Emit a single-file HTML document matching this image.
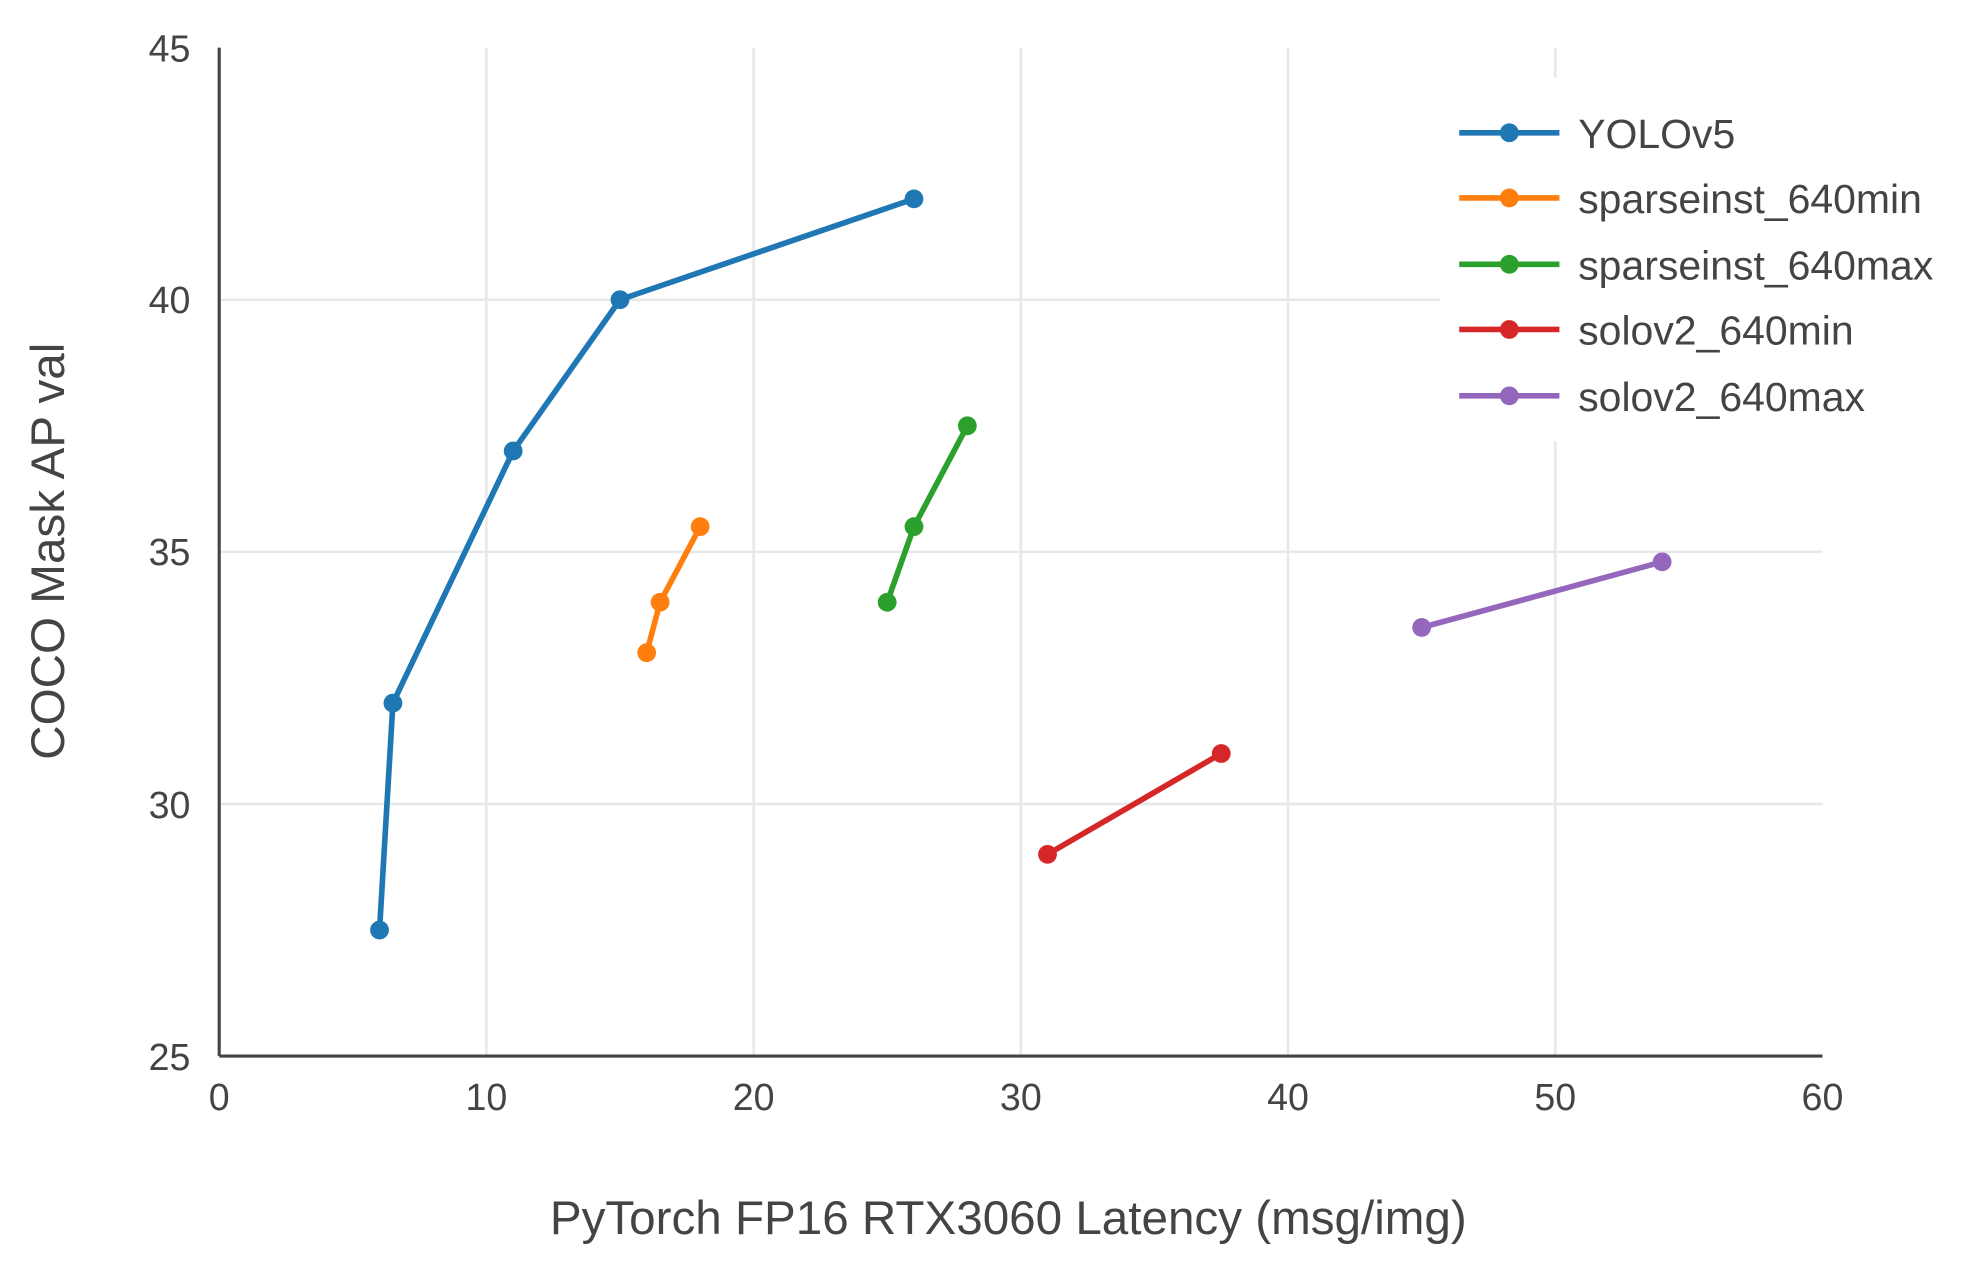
<!DOCTYPE html>
<html><head><meta charset="utf-8"><style>
html,body{margin:0;padding:0;background:#fff;}
svg{display:block;}
text{font-family:"Liberation Sans",sans-serif;fill:#444;}
</style></head><body>
<svg width="1964" height="1264" viewBox="0 0 1568 1009" preserveAspectRatio="none" xmlns="http://www.w3.org/2000/svg">
<rect width="1568" height="1009" fill="#fff"/>
<g stroke="#e8e8e8" stroke-width="2">
<line x1="388.3" y1="38" x2="388.3" y2="843"/>
<line x1="601.7" y1="38" x2="601.7" y2="843"/>
<line x1="815" y1="38" x2="815" y2="843"/>
<line x1="1028.3" y1="38" x2="1028.3" y2="843"/>
<line x1="1241.7" y1="38" x2="1241.7" y2="843"/>
<line x1="175" y1="239.25" x2="1455" y2="239.25"/>
<line x1="175" y1="440.5" x2="1455" y2="440.5"/>
<line x1="175" y1="641.75" x2="1455" y2="641.75"/>
</g>
<rect x="1150" y="62" width="400" height="290" fill="#fff"/>
<g stroke="#444" stroke-width="2.5">
<line x1="175" y1="38" x2="175" y2="843"/>
<line x1="175" y1="843" x2="1455" y2="843"/>
</g>
<g font-size="30" text-anchor="end">
<text x="152" y="49">45</text><text x="152" y="250">40</text><text x="152" y="451">35</text>
<text x="152" y="653">30</text><text x="152" y="854">25</text>
</g>
<g font-size="30" text-anchor="middle">
<text x="175" y="886">0</text><text x="388.3" y="886">10</text><text x="601.7" y="886">20</text>
<text x="815" y="886">30</text><text x="1028.3" y="886">40</text><text x="1241.7" y="886">50</text><text x="1455" y="886">60</text>
</g>
<text x="805" y="985" font-size="38" text-anchor="middle">PyTorch FP16 RTX3060 Latency (msg/img)</text>
<text transform="translate(51,440) rotate(-90)" font-size="38" text-anchor="middle">COCO Mask AP val</text>
<g fill="none" stroke-width="4.5" stroke-linejoin="round">
<polyline stroke="#1f77b4" points="303,742.4 313.7,561.25 409.7,360 495,239.25 729.7,158.75"/>
<polyline stroke="#ff7f0e" points="516.3,521 527,480.75 559,420.4"/>
<polyline stroke="#2ca02c" points="708.3,480.75 729.7,420.4 772.3,339.9"/>
<polyline stroke="#d62728" points="836.3,682 975,601.5"/>
<polyline stroke="#9467bd" points="1135,500.9 1327,448.5"/>
</g>
<g fill="#1f77b4"><circle cx="303" cy="742.4" r="7.5"/><circle cx="313.7" cy="561.25" r="7.5"/><circle cx="409.7" cy="360" r="7.5"/><circle cx="495" cy="239.25" r="7.5"/><circle cx="729.7" cy="158.75" r="7.5"/></g>
<g fill="#ff7f0e"><circle cx="516.3" cy="521" r="7.5"/><circle cx="527" cy="480.75" r="7.5"/><circle cx="559" cy="420.4" r="7.5"/></g>
<g fill="#2ca02c"><circle cx="708.3" cy="480.75" r="7.5"/><circle cx="729.7" cy="420.4" r="7.5"/><circle cx="772.3" cy="339.9" r="7.5"/></g>
<g fill="#d62728"><circle cx="836.3" cy="682" r="7.5"/><circle cx="975" cy="601.5" r="7.5"/></g>
<g fill="#9467bd"><circle cx="1135" cy="500.9" r="7.5"/><circle cx="1327" cy="448.5" r="7.5"/></g>
<g stroke-width="4.5">
<line x1="1165" y1="106" x2="1245" y2="106" stroke="#1f77b4"/>
<line x1="1165" y1="158" x2="1245" y2="158" stroke="#ff7f0e"/>
<line x1="1165" y1="211" x2="1245" y2="211" stroke="#2ca02c"/>
<line x1="1165" y1="263" x2="1245" y2="263" stroke="#d62728"/>
<line x1="1165" y1="316" x2="1245" y2="316" stroke="#9467bd"/>
</g>
<circle cx="1205" cy="106" r="7.5" fill="#1f77b4"/>
<circle cx="1205" cy="158" r="7.5" fill="#ff7f0e"/>
<circle cx="1205" cy="211" r="7.5" fill="#2ca02c"/>
<circle cx="1205" cy="263" r="7.5" fill="#d62728"/>
<circle cx="1205" cy="316" r="7.5" fill="#9467bd"/>
<g font-size="32.7">
<text x="1260" y="118">YOLOv5</text>
<text x="1260" y="170">sparseinst_640min</text>
<text x="1260" y="223">sparseinst_640max</text>
<text x="1260" y="275">solov2_640min</text>
<text x="1260" y="328">solov2_640max</text>
</g>
</svg>
</body></html>
